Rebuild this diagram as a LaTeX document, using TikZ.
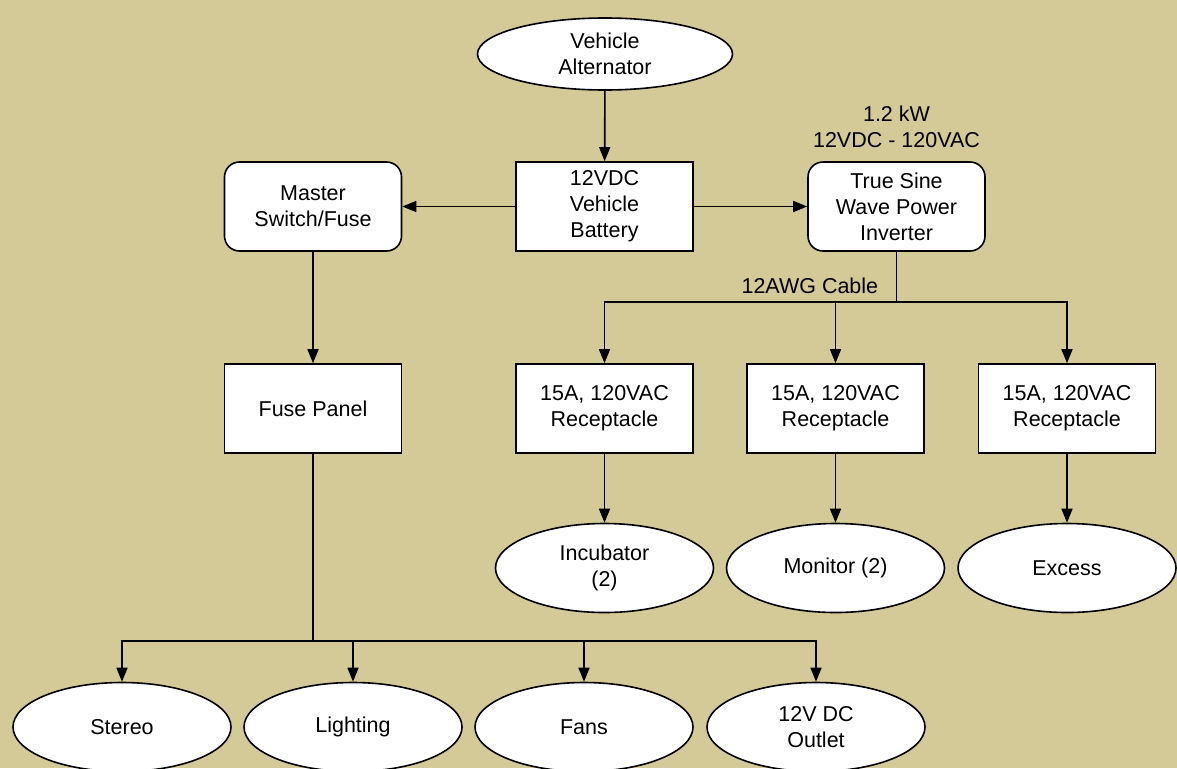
\documentclass[tikz,border=0pt]{standalone}
\usepackage{fontspec}
\setmainfont{Liberation Sans}
\usetikzlibrary{arrows.meta,shapes.geometric}
\definecolor{sandbg}{HTML}{D4CA98}

\begin{document}
\begin{tikzpicture}[>={Triangle[length=14pt,width=11pt]},x=1pt,y=-1pt,
line width=1.6pt,
font=\fontsize{21.5}{26}\selectfont,
block/.style={draw,fill=white,align=center,minimum width=177pt,minimum height=89pt,inner sep=2pt},
softblock/.style={block,rounded corners=15pt},
load/.style={draw,fill=white,ellipse,align=center,minimum width=218pt,minimum height=89pt,inner sep=0pt},
tag/.style={align=center,inner sep=1pt}]
\fill[sandbg] (0,0) rectangle (1177,768);
\useasboundingbox (0,0) rectangle (1177,768);
% supply side
\node[load,minimum width=255pt,minimum height=72pt] (alt) at (605,54) {Vehicle\\Alternator};
\node[block] (batt) at (604.5,206.5) {12VDC\\Vehicle\\Battery};
\node[softblock] (master) at (313,206.5) {Master\\Switch/Fuse};
\node[softblock] (inv) at (896.5,206.5) {True Sine\\Wave Power\\Inverter};
\node[tag] (rating) at (896.5,127) {1.2 kW\\12VDC - 120VAC};
\node[block] (fuse) at (313,408.5) {Fuse Panel};
% AC side
\node[block] (recA) at (604.5,408.5) {15A, 120VAC\\Receptacle};
\node[block] (recB) at (835.5,408.5) {15A, 120VAC\\Receptacle};
\node[block] (recC) at (1067,408.5) {15A, 120VAC\\Receptacle};
\node[load] (incub) at (604.5,568) {Incubator\\(2)};
\node[load] (monit) at (835.5,568) {Monitor (2)};
\node[load] (excess) at (1067,568) {Excess};
% DC loads
\node[load] (stereo) at (122,727) {Stereo};
\node[load] (light) at (353,727) {Lighting};
\node[load] (fans) at (584,727) {Fans};
\node[load] (outlet) at (816,727) {12V DC\\Outlet};
\coordinate (acsplit) at (896.5,302);
\coordinate (dcsplit) at (313,641);
\node[tag,anchor=east] (cable) at (880,286) {12AWG Cable};
\draw[->] (alt) -- (batt);
\draw[->] (batt) -- (master);
\draw[->] (batt) -- (inv);
\draw[->] (master) -- (fuse);
\draw (inv.south) -- (acsplit);
\foreach \rec in {recA,recB,recC}{\draw[->] (acsplit) -| (\rec.north);}
\draw[->] (recA) -- (incub);
\draw[->] (recB) -- (monit);
\draw[->] (recC) -- (excess);
\draw (fuse.south) -- (dcsplit);
\foreach \dev in {stereo,light,fans,outlet}{\draw[->] (dcsplit) -| (\dev.north);}
\end{tikzpicture}
\end{document}
